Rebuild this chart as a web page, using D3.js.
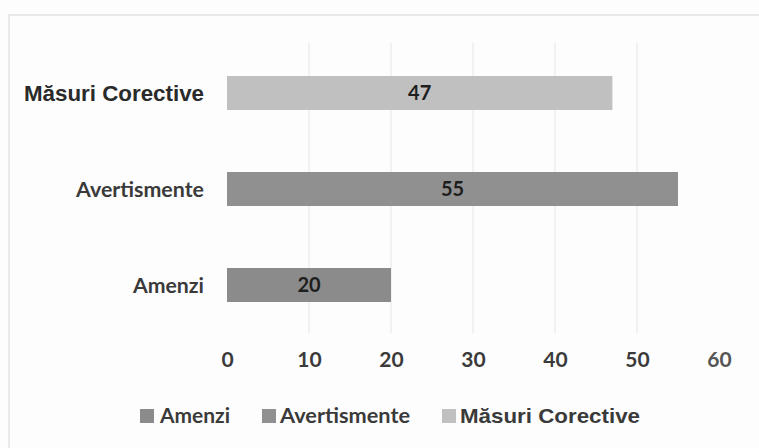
<!DOCTYPE html>
<html>
<head>
<meta charset="utf-8">
<script src="https://cdn.jsdelivr.net/npm/d3@7"></script>
<style>
  html, body { margin: 0; padding: 0; background: #fdfdfd; }
  svg { display: block; }
</style>
</head>
<body>
<svg id="chart" width="759" height="448"></svg>
<script>
// --- DATA ---
const categories = ["Amenzi", "Avertismente", "Măsuri Corective"];
const values = [20, 55, 47];
const colors = ["#8b8b8b", "#909090", "#c0c0c0"];
const xTicks = [0, 10, 20, 30, 40, 50, 60];

// --- LAYOUT ---
const W = 759, H = 448;
const svg = d3.select("#chart");

// frame
svg.append("path")
  .attr("d", `M9,${H} V15 H${W}`)
  .attr("fill", "none").attr("stroke", "#e2e2e2").attr("stroke-width", 1.5);

const x = d3.scaleLinear().domain([0, 60]).range([227, 719]);
const y = d3.scaleBand().domain(categories.slice().reverse())
  .range([45, 333]).paddingInner(0.646).paddingOuter(0.323);

// gridlines
svg.append("g").selectAll("line").data(xTicks.filter(t => t > 0 && t < 60)).join("line")
  .attr("x1", d => x(d)).attr("x2", d => x(d))
  .attr("y1", 43).attr("y2", 333)
  .attr("stroke", "#e6e6e6").attr("stroke-width", 1);

// bars
svg.append("g").selectAll("rect").data(categories).join("rect")
  .attr("x", x(0))
  .attr("y", d => y(d))
  .attr("width", (d, i) => x(values[i]) - x(0))
  .attr("height", y.bandwidth())
  .attr("fill", (d, i) => colors[i]);

// value labels
svg.append("g").selectAll("text").data(categories).join("text")
  .attr("x", (d, i) => (x(0) + x(values[i])) / 2)
  .attr("y", d => y(d) + y.bandwidth() / 2 + 7)
  .attr("text-anchor", "middle")
  .attr("font-family", "Lato, sans-serif").attr("font-weight", "bold")
  .attr("font-size", 20).attr("fill", "#1e1e1e")
  .text((d, i) => values[i]);

// category labels
const catWidths = { "Amenzi": 71, "Avertismente": 128, "Măsuri Corective": 180 };
svg.append("g").selectAll("text").data(categories).join("text")
  .attr("x", 204)
  .attr("y", d => y(d) + y.bandwidth() / 2 + 8)
  .attr("text-anchor", "end")
  .attr("font-family", d => d === "Măsuri Corective" ? "Liberation Sans, Arial, sans-serif" : "Lato, sans-serif")
  .attr("font-weight", "bold")
  .attr("font-size", d => d === "Măsuri Corective" ? 22 : 21)
  .attr("fill", d => d === "Măsuri Corective" ? "#2a2a2a" : "#3a3a3a")
  .attr("textLength", d => catWidths[d])
  .attr("lengthAdjust", "spacingAndGlyphs")
  .text(d => d);

// x axis tick labels
const axis = d3.axisBottom(x).tickValues(xTicks).tickSize(0).tickPadding(0);
const gAxis = svg.append("g").attr("transform", "translate(0,356)").call(axis);
gAxis.select(".domain").remove();
gAxis.selectAll("text")
  .attr("font-family", "Lato, sans-serif").attr("font-weight", "bold")
  .attr("font-size", 21).attr("fill", (d) => d === 60 ? "#555" : "#3a3a3a")
  .attr("dy", "0.5em");

// legend
const legendItems = [
  { name: "Amenzi", sx: 140, tx: 160, w: 70, font: "Lato, sans-serif" },
  { name: "Avertismente", sx: 262, tx: 280, w: 130, font: "Lato, sans-serif" },
  { name: "Măsuri Corective", sx: 442, tx: 460, w: 180, font: "Liberation Sans, Arial, sans-serif" }
];
const lg = svg.append("g").selectAll("g").data(legendItems).join("g");
lg.append("rect")
  .attr("x", d => d.sx).attr("y", 409).attr("width", 14).attr("height", 14)
  .attr("fill", d => colors[categories.indexOf(d.name)]);
lg.append("text")
  .attr("x", d => d.tx).attr("y", 423)
  .attr("font-family", d => d.font).attr("font-weight", "bold")
  .attr("font-size", 21).attr("fill", "#3a3a3a")
  .attr("textLength", d => d.w).attr("lengthAdjust", "spacingAndGlyphs")
  .text(d => d.name);
</script>
</body>
</html>
